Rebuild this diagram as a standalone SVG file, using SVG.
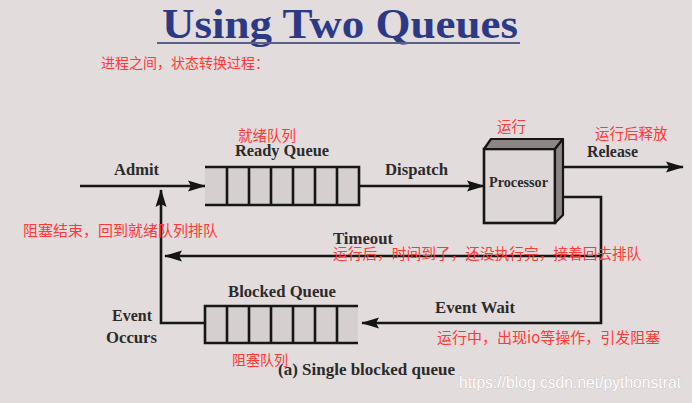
<svg xmlns="http://www.w3.org/2000/svg" width="692" height="403" viewBox="0 0 692 403">
  <defs>
    <marker id="arrow" markerUnits="userSpaceOnUse" markerWidth="18" markerHeight="12" refX="17" refY="6" orient="auto">
      <path d="M0,0.5 L18,6 L0,11.5 L3,6 z" fill="#141414"/>
    </marker>
    <style>
      .bg { fill: #e3dcdc; }
      .lbl { font-family: "Liberation Serif", "Times New Roman", serif; font-weight: bold; font-size: 16.5px; fill: #2b2b2b; }
      .red { font-family: "Noto Sans CJK SC", "Noto Sans", sans-serif; font-size: 15px; fill: #ff3838; }
      .conn { fill: none; stroke: #161616; stroke-width: 2.6; }
      .qline { stroke: #161616; stroke-width: 2.6; fill: none; }
      .qfill { fill: #d6cfcf; stroke: none; }
      .title { font-family: "Liberation Serif", "Times New Roman", serif; font-weight: bold; font-size: 42px; fill: #2c3a86; }
      .wm { font-family: "Liberation Sans", Arial, sans-serif; font-size: 16px; fill: #ffffff; stroke: #a8a0a0; stroke-width: 0.35; paint-order: stroke; }
    </style>
  </defs>

  <rect class="bg" x="0" y="0" width="692" height="403"/>

  <g id="title">
    <text class="title" x="162" y="38" textLength="356" lengthAdjust="spacingAndGlyphs">Using Two Queues</text>
    <line x1="157" y1="43" x2="520" y2="43" stroke="#5a6088" stroke-width="2"/>
  </g>

  <g id="connectors">
    <path class="conn" d="M80,186 H205" marker-end="url(#arrow)"/>
    <path class="conn" d="M359,186 H484" marker-end="url(#arrow)"/>
    <path class="conn" d="M555,167 H683" marker-end="url(#arrow)"/>
    <path class="conn" d="M555,197 H601 V323 H362" marker-end="url(#arrow)"/>
    <path class="conn" d="M601,256 H165" marker-end="url(#arrow)"/>
    <path class="conn" d="M205,323 H161 V190" marker-end="url(#arrow)"/>
    <text class="lbl" x="114" y="175" textLength="45" lengthAdjust="spacingAndGlyphs">Admit</text>
    <text class="lbl" x="385" y="175" textLength="63" lengthAdjust="spacingAndGlyphs">Dispatch</text>
    <text class="lbl" x="587" y="157" textLength="51" lengthAdjust="spacingAndGlyphs">Release</text>
    <text class="lbl" x="333" y="244" textLength="60" lengthAdjust="spacingAndGlyphs">Timeout</text>
    <text class="lbl" x="435" y="313" textLength="80" lengthAdjust="spacingAndGlyphs">Event Wait</text>
    <text class="lbl" x="112" y="321" textLength="40" lengthAdjust="spacingAndGlyphs">Event</text>
    <text class="lbl" x="106" y="343" textLength="51" lengthAdjust="spacingAndGlyphs">Occurs</text>
  </g>

  <g id="ready-queue">
    <rect class="qfill" x="205" y="167" width="154" height="38"/>
    <path class="qline" d="M205,167 H359 V205 H205 M227,167 V205 M249,167 V205 M271,167 V205 M293,167 V205 M315,167 V205 M337,167 V205"/>
    <text class="lbl" x="235" y="156" textLength="94" lengthAdjust="spacingAndGlyphs">Ready Queue</text>
  </g>

  <g id="processor">
    <rect x="484" y="149" width="71" height="74" fill="#ddd7d7" stroke="#161616" stroke-width="2.6"/>
    <polygon points="484,149 491,139 563,139 555,149" fill="#8c8686" stroke="#161616" stroke-width="2.2" stroke-linejoin="round"/>
    <polygon points="555,149 563,139 563,215 555,223" fill="#8c8686" stroke="#161616" stroke-width="2.2" stroke-linejoin="round"/>
    <text class="lbl" x="489" y="187" textLength="59" lengthAdjust="spacingAndGlyphs" style="font-size:14px">Processor</text>
  </g>

  <g id="blocked-queue">
    <rect class="qfill" x="205" y="306" width="153" height="37"/>
    <path class="qline" d="M358,306 H205 V343 H358 M227,306 V343 M249,306 V343 M271,306 V343 M293,306 V343 M315,306 V343 M337,306 V343"/>
    <text class="lbl" x="228" y="297" textLength="108" lengthAdjust="spacingAndGlyphs">Blocked Queue</text>
  </g>

  <g id="caption">
    <text class="lbl" x="278" y="375" textLength="177" lengthAdjust="spacingAndGlyphs">(a) Single blocked queue</text>
  </g>

  <g id="annotations">
    <text class="red" x="101" y="68" style="font-size:14px">进程之间，状态转换过程：</text>
    <text class="red" x="238" y="141" style="font-size:14.5px">就绪队列</text>
    <text class="red" x="497" y="132" style="font-size:14.5px">运行</text>
    <text class="red" x="595" y="139" style="font-size:14.5px">运行后释放</text>
    <text class="red" x="23" y="236">阻塞结束，回到就绪队列排队</text>
    <text class="red" x="333" y="259" style="font-size:14.7px">运行后，时间到了，还没执行完，接着回去排队</text>
    <text class="red" x="437" y="343">运行中，出现io等操作，引发阻塞</text>
    <text class="red" x="232" y="365" style="font-size:14px">阻塞队列</text>
  </g>

  <text class="wm" x="459" y="388" textLength="222" lengthAdjust="spacingAndGlyphs">https://blog.csdn.net/pythonstrat</text>
</svg>
